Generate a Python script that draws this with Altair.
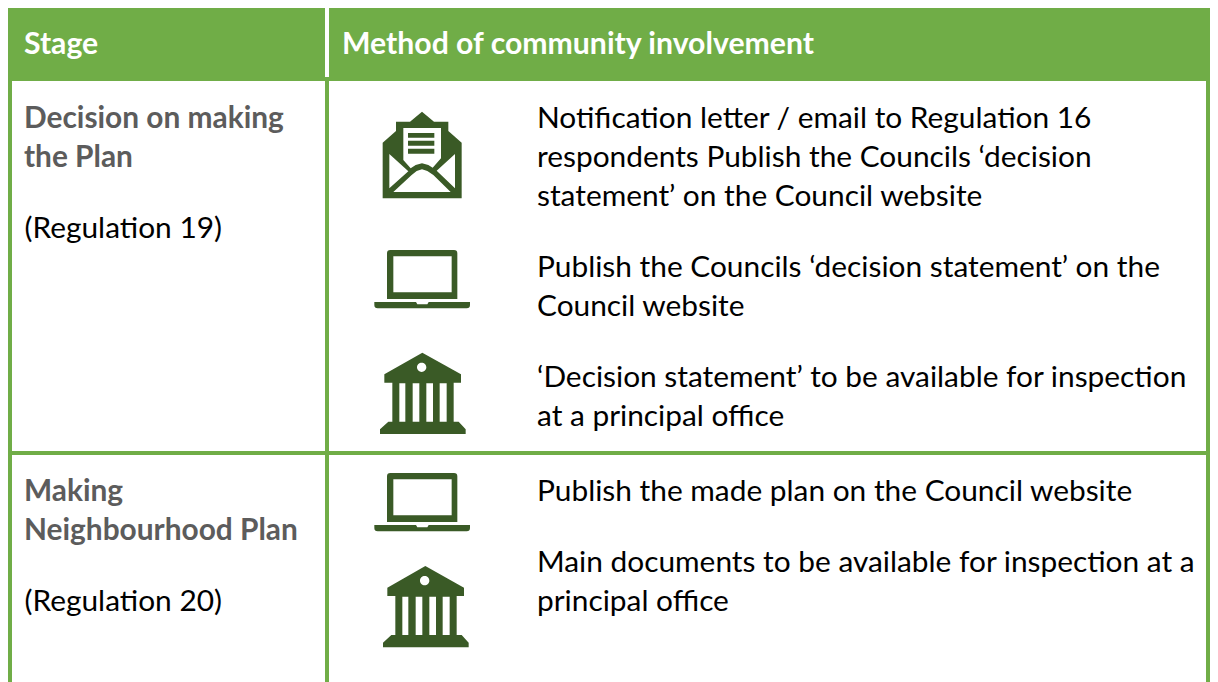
import altair as alt
import pandas as pd

W, H = 1210, 682   # the page leaves 1202 px of width for the chart
GREEN, WHITE, DARK, GREY, BLACK = "#70ad47", "#ffffff", "#3a5a26", "#5c5c5c", "#000000"
FONT = "Lato"
SIZE_BODY = 29.85
SIZE_HEAD = 30.2

# ---- table text ----
header_text = ["Stage", "Method of community involvement"]
stage_text = ["Decision on making", "the Plan", "Making", "Neighbourhood Plan"]
regulation_text = ["(Regulation 19)", "(Regulation 20)"]
method_text = [
    "Notification letter / email to Regulation 16",
    "respondents Publish the Councils ‘decision",
    "statement’ on the Council website",
    "Publish the Councils ‘decision statement’ on the",
    "Council website",
    "‘Decision statement’ to be available for inspection",
    "at a principal office",
    "Publish the made plan on the Council website",
    "Main documents to be available for inspection at a",
    "principal office",
]

# ---- layout of the table, in picture units ----
header_x = [24, 342]
header_base = [53.8, 53.8]
stage_base = [128, 167, 501, 540]
regulation_base = [238, 611]
method_base = [128, 167, 206, 277, 316, 387, 426, 501, 572, 611]

band_x = [8, 325, 8, 325, W - 4, 8]
band_x2 = [W, 329, 12, 329, W, W]
band_y = [8, 8, 81, 81, 81, 451]
band_y2 = [81, 77, H, H, H, 455]
band_fill = [GREEN, WHITE, GREEN, GREEN, GREEN, GREEN]

# ---- icons: outlines drawn at 3x, holes wound the other way ----
ENVELOPE = (
    "M186,35 L222,65 L265,65 L265,93 L305,128 L305,295 L68,295 L68,128 L108,93 L108,65 L150,65 Z "
    "M130,84 L130,180 L152,205 L167,195 L186,190 L205,195 L218,203 L243,175 L243,84 Z "
    "M88,162 L88,265 L145,214 Z "
    "M285,162 L230,212 L285,265 Z "
    "M100,276 L272,276 L220,225 L202,213 L186,208 L170,213 L155,225 Z "
    "M144,99 L223,99 L223,113 L144,113 Z "
    "M144,122 L223,122 L223,137 L144,137 Z "
    "M144,146 L223,146 L223,161 L144,161 Z"
)
LAPTOP = (
    "M91,30 L282,30 Q292,30 292,40 L292,177 L81,177 L81,40 Q81,30 91,30 Z "
    "M100,49 L100,157 L275,157 L275,49 Z "
    "M43,186 L168,186 L172,193 L202,193 L206,186 L330,186 L330,195 Q330,205 320,205 L53,205 Q43,205 43,195 Z"
)
BANK = (
    "M187,338 L303,403 L303,428 L281,428 L281,545 L296,545 L317,568 L317,582 L60,582 L60,568 L85,545 "
    "L97,545 L97,428 L73,428 L73,403 Z "
    "M199,382 A14,14 0 1 0 171,382 A14,14 0 1 0 199,382 Z "
    "M118,430 L118,545 L136,545 L136,430 Z "
    "M158,430 L158,545 L178,545 L178,430 Z "
    "M199,430 L199,545 L219,545 L219,430 Z "
    "M239,430 L239,545 L260,545 L260,430 Z"
)
icon_path = [ENVELOPE, LAPTOP, BANK, LAPTOP, BANK]
icon_x = [360, 360, 360, 360, 363]
icon_y = [100, 240, 240, 463, 453.3]

x_scale = alt.Scale(domain=[8, W], range=[0, W - 8], nice=False, zero=False)
y_scale = alt.Scale(domain=[8, H], range=[0, H - 8], nice=False, zero=False)
X = alt.X("x:Q", scale=x_scale, axis=None)
Y = alt.Y("y:Q", scale=y_scale, axis=None)

bands = alt.Chart(pd.DataFrame(
    {"x": band_x, "x2": band_x2, "y": band_y, "y2": band_y2, "fill": band_fill}
)).mark_rect(strokeWidth=0).encode(
    x=X, x2="x2:Q", y=Y, y2="y2:Q", fill=alt.Fill("fill:N", scale=None)
)


def text_layer(texts, xs, ys, color, bold, size=SIZE_BODY):
    return alt.Chart(pd.DataFrame({"t": texts, "x": xs, "y": ys})).mark_text(
        align="left", baseline="alphabetic", font=FONT, fontSize=size,
        fontWeight="bold" if bold else "normal", color=color,
    ).encode(x=X, y=Y, text="t:N")


layers = [
    bands,
    text_layer(header_text, header_x, header_base, WHITE, True, SIZE_HEAD),
    text_layer(stage_text, [24] * len(stage_text), stage_base, GREY, True),
    text_layer(regulation_text, [24.5] * len(regulation_text), regulation_base, BLACK, False),
    text_layer(method_text, [537] * len(method_text), method_base, BLACK, False),
]
for path, ix, iy in zip(icon_path, icon_x, icon_y):
    layers.append(
        alt.Chart(pd.DataFrame({"x": [ix], "y": [iy]})).mark_point(
            shape=path, size=4 / 9, filled=True, fill=DARK, opacity=1, strokeWidth=0,
            clip=False,
        ).encode(x=X, y=Y)
    )

chart = alt.layer(*layers).properties(
    width=W - 8, height=H - 8, padding=0, autosize=alt.AutoSizeParams(type="none"),
    background=WHITE,
).configure_view(stroke=None)

chart.save("out.html", embed_options={"renderer": "svg", "actions": False})
